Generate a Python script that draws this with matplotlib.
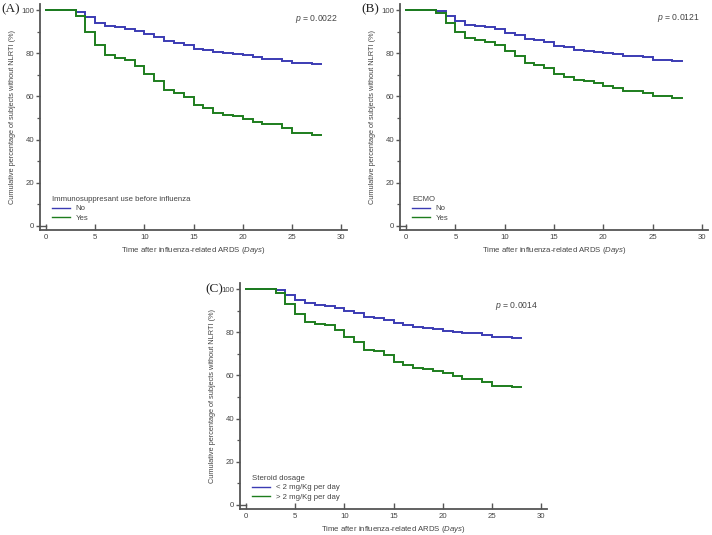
import matplotlib
matplotlib.use("Agg")
import matplotlib.pyplot as plt
from matplotlib.ticker import MultipleLocator

plt.rcParams['font.family'] = ['Liberation Sans', 'DejaVu Sans']
plt.rcParams['mathtext.fontset'] = 'custom'
plt.rcParams['mathtext.rm'] = 'Liberation Sans'
plt.rcParams['mathtext.it'] = 'Liberation Sans:italic'

# ---- data ----
days = [0, 3, 4, 5, 6, 7, 8, 9, 10, 11, 12, 13, 14, 15, 16, 17, 18, 19, 20,
        21, 22, 23, 24, 25, 26, 27, 28]

a_no = [100, 99.1, 96.6, 94.1, 92.6, 92.0, 91.3, 90.4, 88.9, 87.3, 85.5, 84.9,
        83.9, 82.1, 81.5, 80.5, 80.1, 79.8, 79.0, 78.1, 77.3, 77.2, 76.5, 75.6,
        75.5, 75.0, 75.0]
a_yes = [100, 97.2, 89.8, 83.8, 79.4, 77.6, 76.8, 74.2, 70.3, 67.2, 62.8, 61.7,
         59.5, 55.8, 54.4, 52.1, 51.3, 50.7, 49.5, 48.1, 47.0, 47.0, 45.4, 43.1,
         43.1, 42.3, 42.3]

b_no = [100, 99.4, 97.1, 94.8, 93.2, 92.4, 92.0, 91.0, 89.5, 88.6, 86.6, 86.1,
        85.2, 83.5, 82.7, 81.6, 81.2, 80.7, 80.1, 79.5, 78.7, 78.7, 78.1, 76.9,
        76.9, 76.4, 76.4]
b_yes = [100, 98.5, 93.8, 89.7, 87.2, 86.0, 85.2, 83.8, 80.9, 78.9, 75.3, 74.7,
         73.1, 70.4, 69.1, 67.6, 67.0, 66.4, 65.0, 63.9, 62.7, 62.7, 61.8, 60.1,
         60.1, 59.3, 59.3]

c_low = [100, 99.5, 97.2, 95.0, 93.5, 92.8, 92.2, 91.3, 89.9, 88.8, 86.9, 86.5,
         85.5, 84.1, 83.4, 82.4, 82.0, 81.5, 80.7, 80.1, 79.5, 79.5, 78.7, 77.8,
         77.8, 77.2, 77.2]
c_high = [100, 98.1, 93.0, 88.3, 84.9, 83.8, 83.2, 81.2, 77.8, 75.6, 71.9, 71.1,
          69.4, 66.3, 65.0, 63.5, 62.9, 62.2, 61.1, 59.6, 58.3, 58.3, 56.9, 55.2,
          55.2, 54.6, 54.6]

panels = [
    dict(label="(A)", p="0.0022", title="Immunosuppresant use before influenza",
         names=["No", "Yes"], series=[a_no, a_yes]),
    dict(label="(B)", p="0.0121", title="ECMO",
         names=["No", "Yes"], series=[b_no, b_yes]),
    dict(label="(C)", p="0.0014", title="Steroid dosage",
         names=["< 2 mg/Kg per day", "> 2 mg/Kg per day"], series=[c_low, c_high]),
]

# ---- style ----
W, H = 712, 535
BLUE = "#3b3bb3"
GREEN = "#1d7d1d"
SPINE = "#555555"
TXT = "#444444"
FS = 5.6

fig = plt.figure(figsize=(W / 100, H / 100), dpi=100)

# axes rectangles in pixels: left spine x, right end x, bottom spine y, top y
rects = [(40, 347, 230, 4), (400, 708, 230, 4), (240, 547, 509, 283)]
label_pos = [(1, 9), (361, 9), (205, 289)]
p_pos = [(338, 19), (700, 18), (538, 306)]

XL = (-0.62, 30.6)
YL = (-1.9, 102.8)

for pan, (l, r, b, t), lp, pp in zip(panels, rects, label_pos, p_pos):
    ax = fig.add_axes([l / W, 1 - b / H, (r - l) / W, (b - t) / H])
    ax.set_xlim(*XL)
    ax.set_ylim(*YL)
    for s in ("top", "right"):
        ax.spines[s].set_visible(False)
    for s in ("left", "bottom"):
        ax.spines[s].set_color(SPINE)
        ax.spines[s].set_linewidth(1.3)
    ax.xaxis.set_major_locator(MultipleLocator(5))
    ax.yaxis.set_major_locator(MultipleLocator(20))
    ax.yaxis.set_minor_locator(MultipleLocator(10))
    ax.tick_params(axis="x", direction="in", length=4, width=1.0, color=SPINE,
                   labelsize=FS, labelcolor=TXT, pad=3)
    ax.tick_params(axis="y", which="major", direction="out", length=3, width=1.0,
                   color=SPINE, labelsize=FS, labelcolor=TXT, pad=1.0)
    ax.tick_params(axis="y", which="minor", direction="out", length=2, width=0.9,
                   color=SPINE)
    # small corner hook at the origin
    ax.plot([XL[0], 0], [0, 0], color=SPINE, lw=1.0, clip_on=False)

    cols = [BLUE, GREEN]
    handles = []
    for vals, col, nm in zip(pan["series"], cols, pan["names"]):
        h, = ax.plot(days, vals, drawstyle="steps-post", color=col, lw=1.4,
                     label=nm, solid_joinstyle="miter")
        handles.append(h)

    leg = ax.legend(handles=handles, title=pan["title"], loc="lower left",
                    bbox_to_anchor=(0.04, 0.035), frameon=False, fontsize=FS,
                    title_fontsize=FS, handlelength=2.3, handletextpad=0.7,
                    labelspacing=0.3, borderaxespad=0, borderpad=0)
    leg._legend_box.align = "left"
    for tx in leg.get_texts():
        tx.set_color(TXT)
    leg.get_title().set_color(TXT)
    for ln in leg.get_lines():
        ln.set_linewidth(1.0)

    ax.set_ylabel("Cumulative percentage of subjects without NLRTI (%)",
                  fontsize=5.3, color=TXT, labelpad=4)
    ax.set_xlabel("Time after influenza-related ARDS $\\it{(Days)}$",
                  fontsize=FS, color=TXT, labelpad=2.5)

    fig.text(pp[0] / W, 1 - pp[1] / H, "$\\it{p}$ = " + pan["p"], fontsize=6.2,
             color=TXT, ha="right", va="center")
    fig.text(lp[0] / W, 1 - lp[1] / H, pan["label"], fontsize=9.5,
             family=["Liberation Serif"], color="#222222", ha="left", va="center")

fig.savefig("out.png", dpi=100)
